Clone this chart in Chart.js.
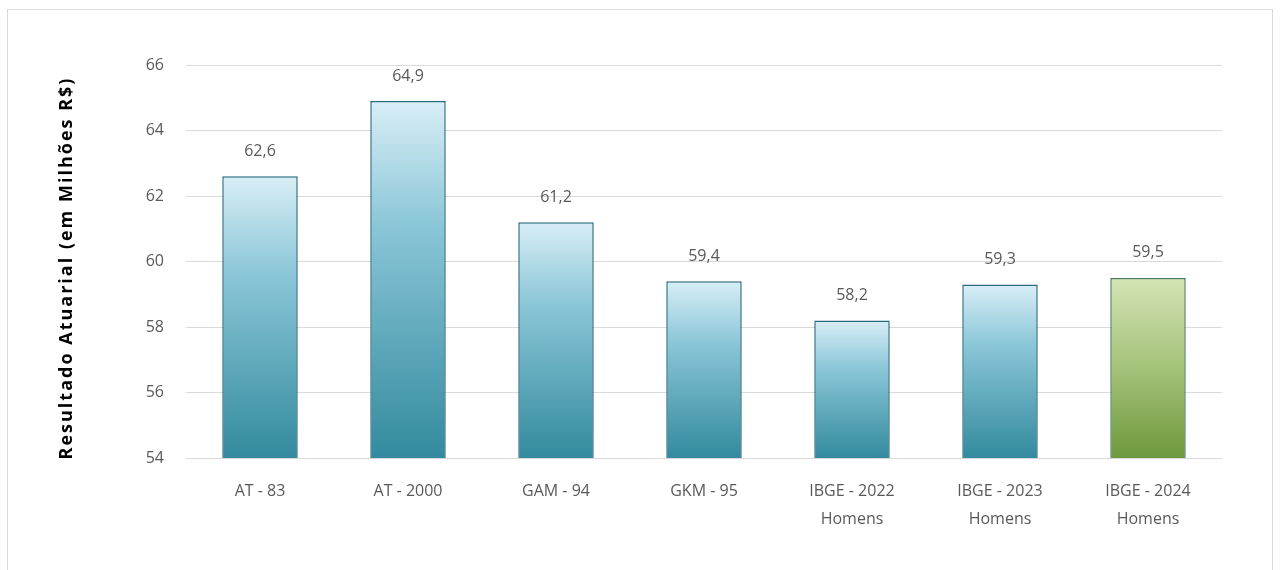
<!DOCTYPE html>
<html>
<head>
<meta charset="utf-8">
<script src="https://cdn.jsdelivr.net/npm/chart.js@4.4.0/dist/chart.umd.min.js"></script>
<style>
  html, body { margin: 0; padding: 0; background: #fff; }
  #wrap { position: relative; width: 1280px; height: 570px; overflow: hidden; }
  #frame { position: absolute; left: 7px; top: 9px; width: 1266px; height: 600px; border: 1px solid #d9d9d9; box-sizing: border-box; }
  canvas { position: absolute; left: 0; top: 0; }
</style>
</head>
<body>
<div id="wrap">
  <div id="frame"></div>
  <canvas id="c" width="1280" height="570"></canvas>
</div>
<script>
// Tábuas de mortalidade comparadas
const categories = [
  ["AT - 83"],
  ["AT - 2000"],
  ["GAM - 94"],
  ["GKM - 95"],
  ["IBGE - 2022", "Homens"],
  ["IBGE - 2023", "Homens"],
  ["IBGE - 2024", "Homens"]
];
const resultado = [62.6, 64.9, 61.2, 59.4, 58.2, 59.3, 59.5];
const destaque = [false, false, false, false, false, false, true];
const yTicks = [54, 56, 58, 60, 62, 64, 66];
const yTitle = "Resultado Atuarial (em Milhões R$)";

const fontFamily = "'Open Sans', 'DejaVu Sans', sans-serif";
const grayText = "#595959";

function fmt(v) { return v.toFixed(1).replace(".", ","); }

function barFill(ctx) {
  const chart = ctx.chart;
  const area = chart.chartArea;
  const green = destaque[ctx.dataIndex];
  if (!area || ctx.type !== "data") return green ? "#a9c67a" : "#7fbfd1";
  const y = chart.scales.y;
  const top = y.getPixelForValue(ctx.raw);
  const g = chart.ctx.createLinearGradient(0, top, 0, area.bottom);
  if (green) {
    g.addColorStop(0, "#d3e4b4");
    g.addColorStop(0.5, "#a5c27a");
    g.addColorStop(1, "#6e993c");
  } else {
    g.addColorStop(0, "#d8eef6");
    g.addColorStop(0.35, "#8ac6d7");
    g.addColorStop(1, "#338a9e");
  }
  return g;
}

// Rótulos de valor acima das barras
const valueLabels = {
  id: "valueLabels",
  afterDatasetsDraw(chart) {
    const ctx = chart.ctx;
    const meta = chart.getDatasetMeta(0);
    ctx.save();
    ctx.font = "16px " + fontFamily;
    ctx.fillStyle = grayText;
    ctx.textAlign = "center";
    ctx.textBaseline = "middle";
    meta.data.forEach((bar, i) => {
      ctx.fillText(fmt(resultado[i]), bar.x, bar.y - 25);
    });
    ctx.restore();
  }
};

// Título do eixo vertical, espaçado
const axisTitle = {
  id: "axisTitle",
  afterDraw(chart) {
    const ctx = chart.ctx;
    ctx.save();
    ctx.translate(67, 268);
    ctx.rotate(-Math.PI / 2);
    ctx.font = "bold 18px " + fontFamily;
    ctx.letterSpacing = "2px";
    ctx.fillStyle = "#000";
    ctx.textAlign = "center";
    ctx.textBaseline = "middle";
    ctx.fillText(yTitle, 0, 0);
    ctx.restore();
  }
};

new Chart(document.getElementById("c"), {
  type: "bar",
  data: {
    labels: categories,
    datasets: [{
      data: resultado,
      backgroundColor: barFill,
      borderColor: (ctx) => destaque[ctx.dataIndex] ? "#4f7d5c" : "#2a6a7e",
      borderWidth: 1.5,
      borderSkipped: "bottom",
      categoryPercentage: 1,
      barPercentage: 0.51
    }]
  },
  options: {
    responsive: false,
    animation: false,
    devicePixelRatio: 1,
    layout: { padding: { left: 55, right: 58, top: 65, bottom: 0 } },
    plugins: {
      legend: { display: false },
      tooltip: { enabled: false }
    },
    scales: {
      x: {
        grid: { display: false },
        border: { display: false },
        ticks: {
          color: grayText,
          font: { family: fontFamily, size: 16, lineHeight: 1.75 },
          padding: 11,
          maxRotation: 0,
          autoSkip: false
        },
        afterFit(scale) { scale.height = 112; }
      },
      y: {
        min: 54,
        max: 66,
        afterBuildTicks(scale) { scale.ticks = yTicks.map(v => ({ value: v })); },
        grid: { color: "#d9d9d9", lineWidth: 1, drawTicks: false },
        border: { display: false },
        ticks: {
          color: grayText,
          font: { family: fontFamily, size: 16 },
          padding: 22
        },
        afterFit(scale) { scale.width = 131; }
      }
    }
  },
  plugins: [valueLabels, axisTitle]
});
</script>
</body>
</html>
